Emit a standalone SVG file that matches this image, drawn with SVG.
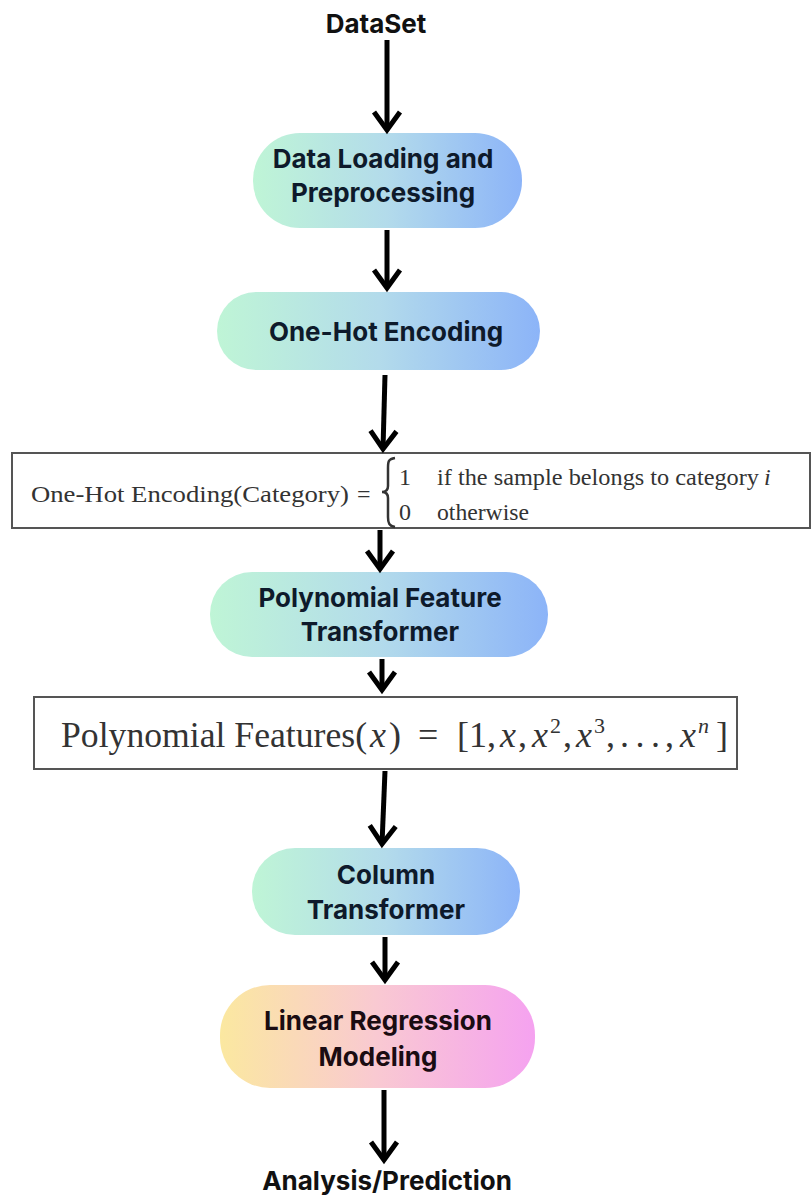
<svg xmlns="http://www.w3.org/2000/svg" width="812" height="1197" viewBox="0 0 812 1197">
<defs>
<linearGradient id="gBlue" x1="0" y1="0" x2="1" y2="0">
<stop offset="0" stop-color="#bff5d6"/>
<stop offset="0.5" stop-color="#b3dbeb"/>
<stop offset="1" stop-color="#8cb4f8"/>
</linearGradient>
<linearGradient id="gPink" x1="0" y1="0" x2="1" y2="0">
<stop offset="0" stop-color="#fbe8a0"/>
<stop offset="0.5" stop-color="#f9c9d2"/>
<stop offset="1" stop-color="#f5a2f0"/>
</linearGradient>
<marker id="chev" markerUnits="userSpaceOnUse" markerWidth="34" markerHeight="34" refX="22" refY="17" orient="auto" overflow="visible">
<path d="M 4 4 L 22 17 L 4 30" fill="none" stroke="#000" stroke-width="5" stroke-linejoin="miter"/>
</marker>
</defs>
<style>
.node text{font-family:Inter,"Open Sans","Liberation Sans",sans-serif;font-weight:700;font-size:26px;fill:#0e1a2b;text-anchor:middle}
.lbl{font-family:Inter,"Open Sans","Liberation Sans",sans-serif;font-weight:700;font-size:26px;fill:#111;text-anchor:middle}
.box{fill:#fff;stroke:#555;stroke-width:2}
.f1{font-family:"Liberation Serif","DejaVu Serif",serif;font-size:24px;fill:#333}
.f2{font-family:"Liberation Serif","DejaVu Serif",serif;font-size:36px;fill:#333}
.it{font-style:italic}
.conn path{fill:none;stroke:#000;stroke-width:5;marker-end:url(#chev)}
</style>
<rect width="812" height="1197" fill="#fff"/>

<g id="dataset"><text class="lbl" x="376" y="33">DataSet</text></g>

<g id="n1" class="node">
<rect x="253" y="133" width="269" height="95" rx="47" fill="url(#gBlue)"/>
<text x="383" y="168">Data Loading and</text>
<text x="383" y="202">Preprocessing</text>
</g>

<g id="n2" class="node">
<rect x="217" y="292" width="323" height="78" rx="39" fill="url(#gBlue)"/>
<text x="386" y="341">One-Hot Encoding</text>
</g>

<g id="f1box">
<rect class="box" x="12" y="453" width="798" height="75"/>
<text class="f1" x="31" y="502" textLength="318" lengthAdjust="spacingAndGlyphs">One-Hot Encoding(Category)</text>
<text class="f1" x="357" y="502">=</text>
<path d="M395 458 C388 459 388 462 388 468 L388 486 C388 490 386 492 382 492 C386 492 388 494 388 498 L388 517 C388 523 389 526 395 527" fill="none" stroke="#333" stroke-width="2.5"/>
<text class="f1" x="399" y="485">1</text>
<text class="f1" x="437" y="485" textLength="322" lengthAdjust="spacingAndGlyphs">if the sample belongs to category</text>
<text class="f1 it" x="764" y="485">i</text>
<text class="f1" x="399" y="520">0</text>
<text class="f1" x="437" y="520" textLength="92" lengthAdjust="spacingAndGlyphs">otherwise</text>
</g>

<g id="n3" class="node">
<rect x="210" y="572" width="338" height="85" rx="42" fill="url(#gBlue)"/>
<text x="380" y="607">Polynomial Feature</text>
<text x="380" y="641">Transformer</text>
</g>

<g id="f2box">
<rect class="box" x="34" y="697" width="703" height="72"/>
<text class="f2" y="747"><tspan x="61" textLength="306" lengthAdjust="spacingAndGlyphs">Polynomial Features(</tspan><tspan class="it" x="370">x</tspan><tspan x="389">)</tspan><tspan x="418">=</tspan><tspan x="457">[1,</tspan><tspan class="it" x="500">x</tspan><tspan x="518">,</tspan><tspan class="it" x="532">x</tspan><tspan x="550" dy="-14" font-size="22">2</tspan><tspan x="563" dy="14">,</tspan><tspan class="it" x="576">x</tspan><tspan x="594" dy="-14" font-size="22">3</tspan><tspan x="606" dy="14">,</tspan><tspan x="620" textLength="40" lengthAdjust="spacing">. . .</tspan><tspan x="665">,</tspan><tspan class="it" x="680">x</tspan><tspan x="698" dy="-14" font-size="22" class="it">n</tspan><tspan x="716" dy="14">]</tspan></text>
</g>

<g id="n4" class="node">
<rect x="252" y="848" width="268" height="87" rx="43" fill="url(#gBlue)"/>
<text x="386" y="884">Column</text>
<text x="386" y="919">Transformer</text>
</g>

<g id="n5" class="node">
<rect x="220" y="985" width="315" height="103" rx="50" fill="url(#gPink)"/>
<text x="378" y="1030" style="fill:#1a0c12">Linear Regression</text>
<text x="378" y="1066" style="fill:#1a0c12">Modeling</text>
</g>

<g id="analysis"><text class="lbl" x="387" y="1190">Analysis/Prediction</text></g>

<g id="connectors" class="conn">
<path d="M387 40 L387 130"/>
<path d="M387 230 L387 288"/>
<path d="M385 375 L383 449"/>
<path d="M380 530 L380 569"/>
<path d="M382 659 L382 690"/>
<path d="M385 771 L382 844"/>
<path d="M385 937 L385 980"/>
<path d="M384 1090 L384 1160"/>
</g>
</svg>
